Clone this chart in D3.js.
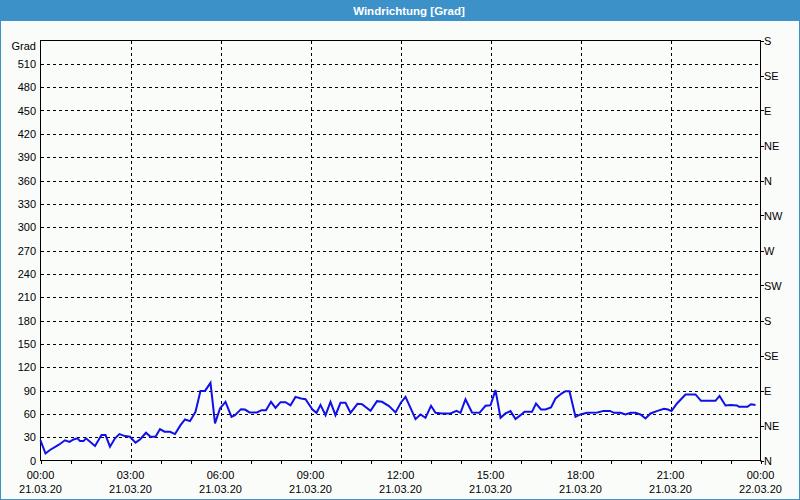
<!DOCTYPE html>
<html><head><meta charset="utf-8">
<script src="https://cdn.jsdelivr.net/npm/d3@7"></script>
<style>body{margin:0;background:#fff}svg{display:block}</style>
</head><body><svg id="c" width="800" height="500"></svg>
<script>
const title = "Windrichtung [Grad]";
const yUnit = "Grad";
const yTicks = [0,30,60,90,120,150,180,210,240,270,300,330,360,390,420,450,480,510];
const dirValues = [0,45,90,135,180,225,270,315,360,405,450,495,540];
const dirLabels = ["N","NE","E","SE","S","SW","W","NW","N","NE","E","SE","S"];
const xTickHours = [0,3,6,9,12,15,18,21,24];
const xTimeLabels = ["00:00","03:00","06:00","09:00","12:00","15:00","18:00","21:00","00:00"];
const xDateLabels = ["21.03.20","21.03.20","21.03.20","21.03.20","21.03.20","21.03.20","21.03.20","21.03.20","22.03.20"];
// minutes after 21.03.20 00:00
const minutes = [0,10,19,36,49,58,66,74,79,86,91,109,122,130,139,149,158,169,179,190,199,211,220,230,239,248,259,269,280,289,299,310,320,329,340,349,359,370,382,389,401,409,418,433,442,451,461,470,480,490,500,510,521,530,544,552,560,570,580,590,600,610,620,634,643,660,673,683,697,710,721,730,740,750,760,770,781,790,803,820,832,840,850,863,878,890,900,910,920,930,940,950,960,968,983,991,1001,1010,1021,1030,1042,1050,1058,1070,1080,1093,1114,1126,1139,1147,1160,1170,1180,1190,1200,1210,1220,1234,1247,1255,1262,1273,1290,1310,1321,1350,1358,1370,1380,1393,1397,1414,1421,1430];
const values = [26,9,13.5,20,26,24,27,28.5,25,25,28.5,18.6,32.7,32.7,17.7,28.5,34,31.4,30.5,23,27,35.7,30.5,30.5,40.4,37,37,34,45.5,52.8,50.6,62.6,89.5,89.5,99.8,47.7,67,75.4,56,58.3,66,65.5,61.8,61.8,64.7,64.7,75.4,67.7,75,75,71,81.8,79.7,78.8,65.6,61.3,71.5,58.3,75.4,58.3,74.1,74.1,61.3,72.8,72.5,63.8,76.3,75.5,69.9,61.8,74.6,81.8,67.7,53.2,59.2,54.9,70.3,61.3,60.5,60.5,63.8,61.3,78.8,61.8,61.3,70.3,71,90.4,54.9,60.5,63.5,53.2,58.3,62.6,62.6,73.3,65.6,65.6,68.2,79.7,86.1,89.1,89.1,56.2,59.2,61.3,61.8,63.8,63.8,61.3,61.3,59.2,61.3,61.3,59.2,54.1,60.5,63.8,66.4,65.6,63.5,73.3,84.9,84.9,76.7,76.7,83.1,70.8,71.5,70.8,69,69,72.4,71.5];

const svg = d3.select("#c");
const font = "'Liberation Sans', Arial, sans-serif";
const W = 800, H = 500;
const start = new Date(2020, 2, 21, 0, 0);
const toDate = m => new Date(start.getTime() + m * 60000);

// background and frame
svg.append("rect").attr("x",0).attr("y",0).attr("width",W).attr("height",H).attr("fill","#fafcfa");
svg.append("rect").attr("x",0).attr("y",0).attr("width",W).attr("height",21).attr("fill","#3c91c9");
svg.append("rect").attr("x",0.5).attr("y",0.5).attr("width",W-1).attr("height",H-1)
  .attr("fill","none").attr("stroke","#3c91c9");
svg.append("text").attr("x",409).attr("y",14.5).attr("text-anchor","middle")
  .attr("fill","#fff").attr("font-family",font).attr("font-weight","bold").attr("font-size","11.5px")
  .text(title);

const x = d3.scaleTime().domain([start, toDate(1440)]).range([40.5, 760.5]);
const y = d3.scaleLinear().domain([0, 540]).range([460.5, 40.5]);

const g = svg.append("g");
// horizontal grid
g.selectAll("line.hg").data(yTicks.filter(v => v > 0)).join("line")
  .attr("x1", 41).attr("x2", 760).attr("y1", d => Math.round(y(d)) + 0.5).attr("y2", d => Math.round(y(d)) + 0.5)
  .attr("stroke","#000").attr("stroke-dasharray","3,3");
// vertical grid
g.selectAll("line.vg").data(xTickHours.filter(h => h > 0 && h < 24)).join("line")
  .attr("x1", d => Math.round(x(toDate(d*60))) + 0.5).attr("x2", d => Math.round(x(toDate(d*60))) + 0.5)
  .attr("y1", 41).attr("y2", 460)
  .attr("stroke","#000").attr("stroke-dasharray","3,3");

// hourly minor ticks
const hourTicks = x.ticks(d3.timeHour.every(1));
g.selectAll("line.mt").data(hourTicks).join("line")
  .attr("x1", d => Math.round(x(d)) + 0.5).attr("x2", d => Math.round(x(d)) + 0.5)
  .attr("y1", 460.5).attr("y2", 464).attr("stroke","#000");

// frame of plot
g.append("rect").attr("x",40.5).attr("y",40.5).attr("width",720).attr("height",420)
  .attr("fill","none").attr("stroke","#000");

// right ticks
g.selectAll("line.rt").data(dirValues).join("line")
  .attr("x1",760.5).attr("x2",764).attr("y1", d => Math.round(y(d)) + 0.5).attr("y2", d => Math.round(y(d)) + 0.5)
  .attr("stroke","#000");

const txt = (sel) => sel.attr("font-family",font).attr("font-size","11px").attr("fill","#000");

// left labels
g.selectAll("text.yl").data(yTicks).join("text").call(txt)
  .attr("x",36).attr("y", d => y(d) + 4).attr("text-anchor","end").text(d => d);
g.append("text").call(txt).attr("x",36).attr("y",49.5).attr("text-anchor","end").text(yUnit);

// right labels
g.selectAll("text.rl").data(dirValues).join("text").call(txt)
  .attr("x",764).attr("y", d => y(d) + 4).text((d,i) => dirLabels[i]);

// x labels
g.selectAll("text.xt").data(xTickHours).join("text").call(txt)
  .attr("x", d => x(toDate(d*60))).attr("y",479).attr("text-anchor","middle").text((d,i) => xTimeLabels[i]);
g.selectAll("text.xd").data(xTickHours).join("text").call(txt)
  .attr("x", d => x(toDate(d*60))).attr("y",493).attr("text-anchor","middle").text((d,i) => xDateLabels[i]);

// data line
const pts = minutes.map((m,i) => [toDate(m), values[i]]);
g.append("path").datum(pts)
  .attr("d", d3.line().x(d => x(d[0])).y(d => y(d[1])))
  .attr("fill","none").attr("stroke","#1010e8").attr("stroke-width",2).attr("stroke-linejoin","miter");
</script></body></html>
